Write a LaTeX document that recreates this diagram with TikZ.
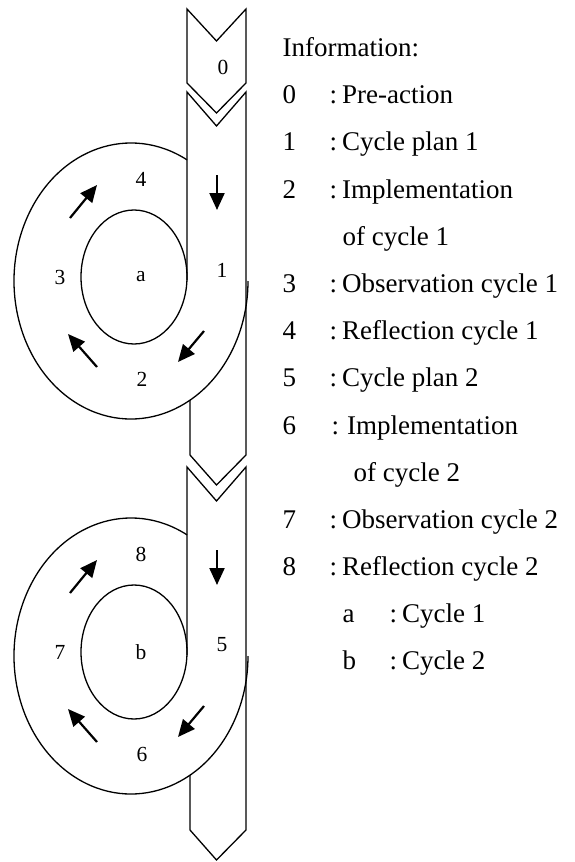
\documentclass[tikz,border=0pt]{standalone}
\usepackage{fontspec}
\setmainfont{Liberation Serif}
\usetikzlibrary{arrows.meta}

\begin{document}
\begin{tikzpicture}[x=1pt,y=1pt,line width=1.3pt,
  flow/.style={line width=2.2pt,-{Triangle[length=17pt,width=15pt]}},
  ringlabel/.style={inner sep=0pt,font=\fontsize{21.5}{24}\selectfont},
  legend/.style={anchor=base west,inner sep=0pt,font=\fontsize{27}{30}\selectfont}]
  \useasboundingbox (0,0) rectangle (574,-862);
  % pre-action chevron
  \draw (187,-9) -- (216.5,-41) -- (246,-9) -- (246,-83) -- (216.5,-113) -- (187,-83) -- cycle;
  \node[ringlabel] (pre) at (223,-67) {0};
  % the two cycles
  \foreach \dy/\p/\i/\o/\r/\c in {0/1/2/3/4/a, -375/5/6/7/8/b}{
    \begin{scope}[shift={(0,\dy)}]
      \coordinate (in\c) at (134,-277); \coordinate (out\c) at (131,-281);
      \draw (187,-280) -- (187,-92) -- (216.5,-126) -- (246,-92) -- (246,-455)
        -- (216.5,-485) -- (190,-455) -- (190,-400.2);
      \draw (in\c) ellipse [x radius=53,y radius=67];
      \draw ([shift={(61.4:117 and 138)}]out\c) arc[start angle=61.4,end angle=360,x radius=117,y radius=138];
      \draw[flow] (217,-175) -- (217,-210);
      \draw[flow] (204,-331) -- (178,-362);
      \draw[flow] (97,-367) -- (68,-334);
      \draw[flow] (70,-218) -- (97,-185);
      \node[ringlabel] (plan\c) at (222,-270) {\p};
      \node[ringlabel] (act\c) at (142,-379) {\i};
      \node[ringlabel] (obs\c) at (60,-277) {\o};
      \node[ringlabel] (ref\c) at (141,-179) {\r};
      \node[ringlabel] (cyc\c) at (141,-277) {\c};
    \end{scope}
  }
  % legend
  \node[legend] (info) at (282,-56) {Information:};
  \foreach \y/\k/\t in {103/0/Pre-action, 150/1/Cycle plan 1, 198/2/Implementation,
      292/3/Observation cycle 1, 339/4/Reflection cycle 1, 386/5/Cycle plan 2,
      528/7/Observation cycle 2, 575/8/Reflection cycle 2}{
    \node[legend] (key\k) at (282,-\y) {\k};
    \node[legend] (desc\k) at (329,-\y) {:\hspace{5pt}\t};
  }
  \node[legend] (more2) at (342,-245) {of cycle 1};
  \node[legend] (key6) at (282,-434) {6};
  \node[legend] (desc6) at (331,-434) {:\hspace{8pt}Implementation};
  \node[legend] (more6) at (353,-481) {of cycle 2};
  \node[legend] (keya) at (342,-622) {a}; \node[legend] (desca) at (389,-622) {:\hspace{5pt}Cycle 1};
  \node[legend] (keyb) at (342,-669) {b}; \node[legend] (descb) at (389,-669) {:\hspace{5pt}Cycle 2};
\end{tikzpicture}
\end{document}
